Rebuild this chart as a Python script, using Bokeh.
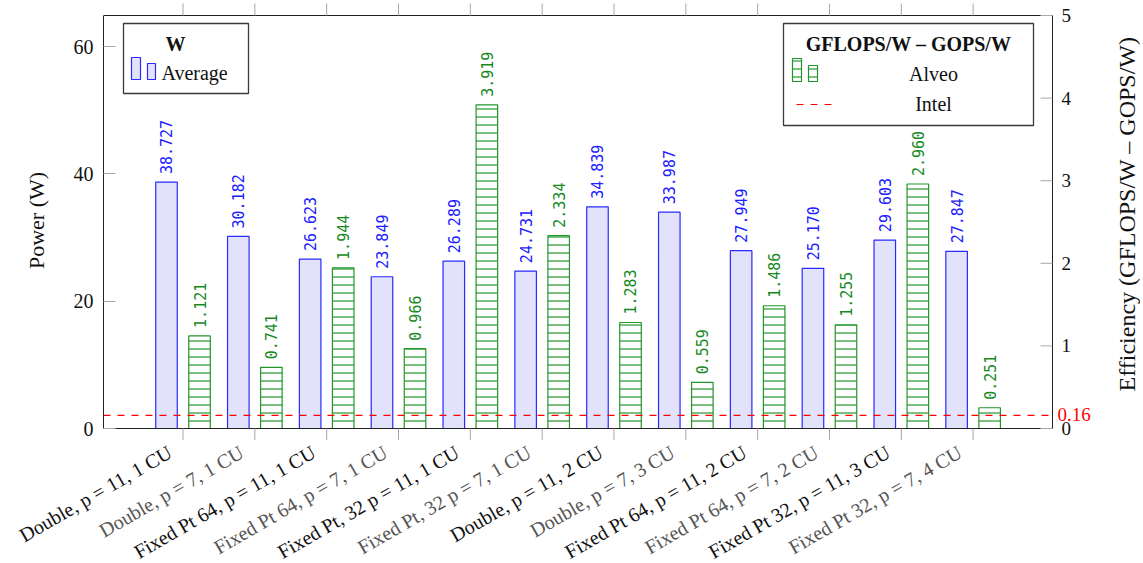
import math
from bokeh.plotting import figure
from bokeh.models import (Range1d, FixedTicker, LabelSet, Label, ColumnDataSource)
from bokeh.core.properties import value
from bokeh.embed import file_html
from bokeh.resources import INLINE

# ---------------- data ----------------
categories = [
    "Double, p = 11, 1 CU", "Double, p = 7, 1 CU",
    "Fixed Pt 64, p = 11, 1 CU", "Fixed Pt 64, p = 7, 1 CU",
    "Fixed Pt, 32 p = 11, 1 CU", "Fixed Pt, 32 p = 7, 1 CU",
    "Double, p = 11, 2 CU", "Double, p = 7, 3 CU",
    "Fixed Pt 64, p = 11, 2 CU", "Fixed Pt 64, p = 7, 2 CU",
    "Fixed Pt 32, p = 11, 3 CU", "Fixed Pt 32, p = 7, 4 CU",
]
power_w = [38.727, 30.182, 26.623, 23.849, 26.289, 24.731,
           34.839, 33.987, 27.949, 25.170, 29.603, 27.847]
efficiency = [1.121, 0.741, 1.944, 0.966, 3.919, 2.334,
              1.283, 0.559, 1.486, 1.255, 2.960, 0.251]
intel_eff = 0.16
left_ticks = [0, 20, 40, 60]
right_ticks = [0, 1, 2, 3, 4, 5]

# ---------------- style ----------------
SERIF = "Liberation Serif"
MONO = "DejaVu Sans Mono"
BLUE_LINE = "#2a2aff"
BLUE_FILL = "#e2e2fa"
BLUE_TEXT = "#2020ff"
GREEN_LINE = "#22962a"
GREEN_TEXT = "#168a1e"
TICK_GRAY = "#a8a8a8"
FRAME = "#222222"

# value extents of the plot box
X0, X1 = -1.107, 12.105
Y0, Y1 = 0, 64.9
E0, E1 = 0, 5

# layout (px): plot box on the page
FL, FR, FT, FB = 103, 1052, 15, 428
W_FIG = 1140
H_A = 440          # main figure height
H_B = 123          # label strip height
TICK = 12

kx = (X1 - X0) / (FR - FL)
kp = (Y1 - Y0) / (FB - FT)
ke = (E1 - E0) / (FB - FT)


def dx(px):
    return X0 + (px - FL) * kx


def dy(py):
    return Y0 + (FB - py) * kp


# ---------------- main figure ----------------
p = figure(width=W_FIG, height=H_A,
           x_range=Range1d(X0, X0 + (W_FIG - FL) * kx),
           y_range=Range1d(Y0 - (H_A - FB) * kp, Y1 + FT * kp),
           output_backend="svg", toolbar_location=None,
           x_axis_location=None, y_axis_location="left",
           min_border_left=FL, min_border_right=0, min_border_top=0,
           min_border_bottom=0)
p.extra_y_ranges = {"eff": Range1d(E0 - (H_A - FB) * ke, E1 + FT * ke)}
p.xgrid.visible = False
p.ygrid.visible = False
p.outline_line_color = None
p.background_fill_color = "white"
p.border_fill_color = "white"

pos = list(range(len(categories)))
OFF = 0.23
W = 0.3

src = ColumnDataSource(dict(
    xb=[i - OFF for i in pos],
    xg=[i + OFF for i in pos],
    xc=pos,
    power=power_w,
    eff=efficiency,
    ptxt=["%.3f" % v for v in power_w],
    etxt=["%.3f" % v for v in efficiency],
    cat=categories,
    ccol=["#111111" if i % 2 == 0 else "#555555" for i in pos],
))

# bars
p.vbar(x="xb", top="power", bottom=0, width=W, source=src,
       fill_color=BLUE_FILL, line_color=BLUE_LINE, line_width=1.2)
p.vbar(x="xg", top="eff", bottom=0, width=W, source=src, y_range_name="eff",
       fill_color="white", line_color=GREEN_LINE, line_width=1.2,
       hatch_pattern="horizontal_line", hatch_scale=8, hatch_color=GREEN_LINE,
       hatch_weight=1.2)

# value labels
p.add_layout(LabelSet(x="xb", y="power", text="ptxt", source=src, angle=math.pi / 2,
                      text_align="left", text_baseline="middle", y_offset=8,
                      text_font=value(MONO), text_font_size=value("15px"),
                      text_color=value(BLUE_TEXT)))
p.add_layout(LabelSet(x="xg", y="eff", text="etxt", source=src, angle=math.pi / 2,
                      y_range_name="eff",
                      text_align="left", text_baseline="middle", y_offset=8,
                      text_font=value(MONO), text_font_size=value("15px"),
                      text_color=value(GREEN_TEXT)))

# intel reference line across the plot box
p.line(x=[X0, X1], y=[intel_eff, intel_eff], y_range_name="eff",
       line_color="red", line_dash="7 7", line_width=1.2)

# plot box (top, bottom, right edges; left edge is the axis line)
p.segment(x0=[X0, X0, X1], y0=[Y1, Y0, Y0], x1=[X1, X1, X1], y1=[Y1, Y0, Y1],
          line_color=FRAME, line_width=1)

# category ticks, bottom (outside) and top (outside)
p.segment(x0=pos, y0=[Y0] * len(pos), x1=pos, y1=[Y0 - TICK * kp] * len(pos),
          line_color=TICK_GRAY, line_width=1)
p.segment(x0=pos, y0=[Y1] * len(pos), x1=pos, y1=[Y1 + TICK * kp] * len(pos),
          line_color=TICK_GRAY, line_width=1)

# right axis (efficiency): ticks inside, labels, title
p.segment(x0=[X1 - TICK * kx] * len(right_ticks), y0=right_ticks,
          x1=[X1] * len(right_ticks), y1=right_ticks, y_range_name="eff",
          line_color=TICK_GRAY, line_width=1)
rsrc = ColumnDataSource(dict(x=[X1] * len(right_ticks), y=right_ticks,
                             t=[str(t) for t in right_ticks]))
p.add_layout(LabelSet(x="x", y="y", text="t", source=rsrc, y_range_name="eff",
                      x_offset=9, text_align="left", text_baseline="middle",
                      text_font=value(SERIF), text_font_size=value("19px"),
                      text_color=value("#111111")))
p.add_layout(Label(x=X1, y=intel_eff, y_range_name="eff", text="0.16", x_offset=5,
                   y_offset=1, text_align="left", text_baseline="middle",
                   text_color="red", text_font=SERIF, text_font_size="19px"))
p.add_layout(Label(x=X1, y=(E0 + E1) / 2, y_range_name="eff",
                   text="Efficiency (GFLOPS/W \u2013 GOPS/W)", angle=math.pi / 2,
                   x_offset=74, y_offset=8, text_align="center", text_baseline="middle",
                   text_font=SERIF, text_font_size="24px", text_color="#111111"))

# left axis (power)
ya = p.yaxis[0]
ya.ticker = FixedTicker(ticks=left_ticks)
ya.bounds = (Y0, Y1)
ya.major_tick_in = TICK
ya.major_tick_out = 0
ya.major_tick_line_color = TICK_GRAY
ya.minor_tick_line_color = None
ya.axis_line_color = FRAME
ya.major_label_text_font = SERIF
ya.major_label_text_font_size = "20px"
ya.major_label_text_color = "#111111"
ya.major_label_standoff = 10
ya.axis_label = "Power (W)"
ya.axis_label_text_font = SERIF
ya.axis_label_text_font_size = "22px"
ya.axis_label_text_font_style = "normal"
ya.axis_label_text_color = "#111111"
ya.axis_label_standoff = 22

# ---------------- legends (decorations) ----------------
# left legend: W / Average
p.quad(left=dx(123), right=dx(248), top=dy(23), bottom=dy(93),
       fill_color="white", line_color="#3a3a3a", line_width=1.3)
p.quad(left=[dx(131), dx(147)], right=[dx(140), dx(155)],
       top=[dy(57), dy(63)], bottom=[dy(79), dy(79)],
       fill_color=BLUE_FILL, line_color=BLUE_LINE, line_width=1.2)
p.add_layout(Label(x=dx(175), y=dy(43), text="W", text_align="center",
                   text_baseline="middle", text_font=SERIF, text_font_size="20px",
                   text_font_style="bold", text_color="#111111"))
p.add_layout(Label(x=dx(161), y=dy(72), text="Average", text_align="left",
                   text_baseline="middle", text_font=SERIF, text_font_size="20px",
                   text_color="#111111"))

# right legend: GFLOPS/W – GOPS/W
p.quad(left=dx(783), right=dx(1033), top=dy(23), bottom=dy(125),
       fill_color="white", line_color="#3a3a3a", line_width=1.3)
p.quad(left=[dx(792), dx(808)], right=[dx(801), dx(817)],
       top=[dy(58), dy(65)], bottom=[dy(81), dy(81)],
       fill_color="white", line_color=GREEN_LINE, line_width=1.2,
       hatch_pattern="horizontal_line", hatch_scale=8, hatch_color=GREEN_LINE,
       hatch_weight=1.2)
p.line(x=[dx(796), dx(838)], y=[dy(104), dy(104)], line_color="red",
       line_dash="7 7", line_width=1.2)
p.add_layout(Label(x=dx(908), y=dy(43), text="GFLOPS/W \u2013 GOPS/W", text_align="center",
                   text_baseline="middle", text_font=SERIF, text_font_size="20px",
                   text_font_style="bold", text_color="#111111"))
p.add_layout(Label(x=dx(933), y=dy(73), text="Alveo", text_align="center",
                   text_baseline="middle", text_font=SERIF, text_font_size="20px",
                   text_color="#111111"))
p.add_layout(Label(x=dx(933), y=dy(103), text="Intel", text_align="center",
                   text_baseline="middle", text_font=SERIF, text_font_size="20px",
                   text_color="#111111"))

# ---------------- category label strip (same x scale, full-width frame) ----------------
b = figure(width=W_FIG, height=H_B,
           x_range=Range1d(X0 - FL * kx, X0 + (W_FIG - FL) * kx),
           y_range=Range1d(-H_B, 0),
           output_backend="svg", toolbar_location=None,
           x_axis_location=None, y_axis_location=None,
           min_border_left=0, min_border_right=0, min_border_top=0,
           min_border_bottom=0)
b.xgrid.visible = False
b.ygrid.visible = False
b.outline_line_color = None
b.background_fill_color = "white"
b.border_fill_color = "white"

ANCHOR_DX, ANCHOR_DY = -13, 22   # label anchor relative to tick foot (px)
b.add_layout(LabelSet(x="xc", y=0, text="cat", source=src, text_color="ccol",
                      angle=math.radians(30), text_align="right",
                      text_baseline="middle", x_offset=ANCHOR_DX,
                      y_offset=-(FB + ANCHOR_DY - H_A),
                      text_font=value(SERIF), text_font_size=value("20px")))

open("out.html", "w").write(file_html([p, b], INLINE))
